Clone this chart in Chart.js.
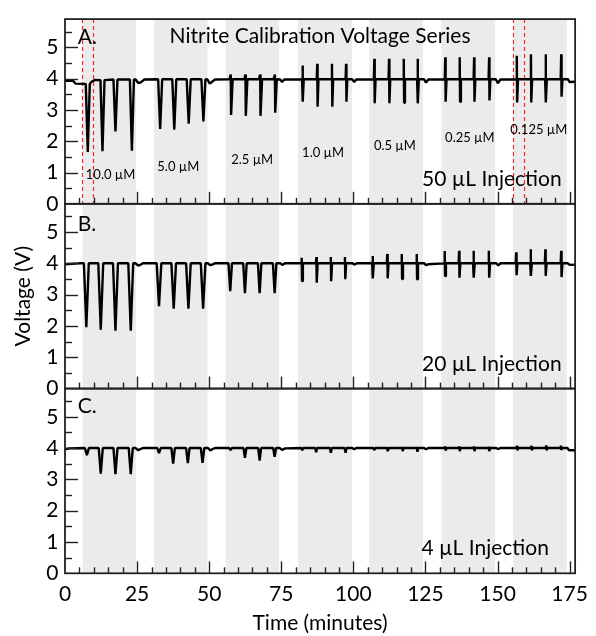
<!DOCTYPE html>
<html>
<head>
<meta charset="utf-8">
<script src="https://cdn.jsdelivr.net/npm/chart.js@4.4.1/dist/chart.umd.min.js"></script>
<style>
  html, body { margin: 0; padding: 0; background: #fff; }
</style>
</head>
<body>
<canvas id="chart" width="596" height="636"></canvas>
<script>
// ---- data ----
const timeMax = 176.9;
const voltMax = 5.9;

// injection windows (grey bands), minutes
const bandStart = [6.1, 30.9, 55.7, 80.8, 105.5, 130.5, 155.4];
const bandEnd   = [24.6, 49.4, 74.3, 99.5, 124.1, 149.2, 174.0];
const concLabels = ["10.0 \u00b5M", "5.0 \u00b5M", "2.5 \u00b5M", "1.0 \u00b5M", "0.5 \u00b5M", "0.25 \u00b5M", "0.125 \u00b5M"];

// red dashed markers in panel A
const markerTimes = [6.0, 9.8, 155.4, 159.2];

// Panel A, 50 uL
const peakTimeA = [7.9, 13.0, 17.5, 23.2, 33.0, 37.9, 42.9, 48.0, 57.6, 62.7, 67.8, 72.9, 82.5, 87.6, 92.7, 97.6,
                   107.4, 112.5, 117.6, 122.4, 132.0, 137.0, 142.0, 147.2, 156.8, 161.7, 166.8, 172.2];
const peakLowA  = [1.66, 1.68, 2.31, 1.70, 2.39, 2.37, 2.56, 2.63, 2.84, 2.81, 2.81, 2.91, 3.26, 3.10, 3.10, 3.26,
                   3.21, 3.21, 3.23, 3.21, 3.26, 3.26, 3.26, 3.30, 3.24, 3.24, 3.24, 3.42];
const peakHighA = [3.83, 3.95, 3.97, 3.97, 3.98, 3.98, 3.98, 3.98, 4.13, 4.13, 4.13, 4.13, 4.42, 4.47, 4.47, 4.47,
                   4.63, 4.63, 4.63, 4.63, 4.68, 4.68, 4.68, 4.68, 4.73, 4.78, 4.78, 4.78];
const peakBaseA = [3.83, 3.95, 3.97, 3.97, 3.98, 3.98, 3.98, 3.98, 3.98, 3.98, 3.98, 3.98, 3.98, 3.98, 3.98, 3.98,
                   3.98, 3.98, 3.98, 3.98, 3.98, 3.98, 3.98, 3.98, 3.98, 3.98, 3.98, 3.98];
const baseTimeA = [0, 2.8, 3.6, 6.9, 9.2, 10.5, 24.5, 25.4, 26.3, 27.5, 49.4, 50.2, 51, 52, 74.6, 75.3, 76,
                   99.6, 100.3, 101, 124.5, 125.2, 126, 149.4, 150.1, 151, 174.4, 175, 176.9];
const baseVoltA = [3.93, 3.93, 3.84, 3.83, 3.9, 3.96, 3.97, 3.86, 3.88, 3.97, 3.97, 3.84, 3.9, 3.97, 3.97, 3.89, 3.97,
                   3.98, 3.89, 3.97, 3.98, 3.87, 3.97, 3.98, 3.85, 3.97, 3.98, 3.89, 3.9];
const halfWidthA = [0.7, 0.7, 0.55, 0.3, 0.3, 0.3, 0.3];

// Panel B, 20 uL
const peakTimeB = [7.4, 12.4, 17.5, 22.8, 32.6, 37.7, 42.8, 47.9, 57.3, 62.4, 67.5, 72.7, 82.2, 87.3, 92.3, 97.2,
                   106.8, 111.9, 116.9, 122.1, 131.8, 136.8, 141.8, 147.1, 156.6, 161.6, 166.7, 172.2];
const peakLowB  = [1.96, 1.88, 1.85, 1.85, 2.63, 2.55, 2.55, 2.55, 3.11, 3.05, 3.05, 3.05, 3.43, 3.38, 3.43, 3.49,
                   3.52, 3.52, 3.50, 3.49, 3.59, 3.54, 3.54, 3.54, 3.62, 3.60, 3.60, 3.56];
const peakHighB = [4.0, 4.0, 4.0, 4.0, 4.0, 4.0, 4.0, 4.0, 4.0, 4.0, 4.0, 4.0, 4.18, 4.2, 4.2, 4.2,
                   4.23, 4.3, 4.3, 4.3, 4.39, 4.4, 4.4, 4.4, 4.35, 4.45, 4.45, 4.4];
const baseTimeB = [0, 5, 24.4, 25.4, 26.3, 27, 49.6, 50.3, 51, 52, 74.7, 75.4, 76.2, 99.7, 100.5, 101.2,
                   124.6, 125.2, 126, 149.6, 150.3, 151, 174.4, 175, 176.9];
const baseVoltB = [3.97, 4.0, 4.0, 3.93, 3.96, 4.0, 4.0, 3.94, 3.96, 4.0, 4.0, 3.95, 4.0, 4.0, 3.96, 4.0,
                   4.0, 3.94, 3.97, 4.0, 3.93, 4.0, 4.0, 3.95, 3.96];
const halfWidthB = [0.85, 0.8, 0.6, 0.3, 0.3, 0.3, 0.3];

// Panel C, 4 uL
const peakTimeC = [7.6, 12.4, 17.5, 22.8, 32.6, 37.5, 42.6, 47.7, 57.4, 62.4, 67.5, 72.7, 82.3, 87.1, 92.2, 97.3,
                   107.2, 112.0, 117.1, 122.2, 132.0, 136.9, 142.0, 147.1, 156.9, 161.9, 167.0, 172.1];
const peakLowC  = [3.77, 3.18, 3.17, 3.17, 3.84, 3.50, 3.52, 3.53, 3.94, 3.69, 3.60, 3.72, 3.93, 3.87, 3.85, 3.85,
                   3.95, 3.90, 3.90, 3.88, 3.92, 3.90, 3.90, 3.90, 3.93, 3.93, 3.93, 3.94];
const peakHighC = [4.0, 4.0, 4.0, 4.0, 4.0, 4.0, 4.0, 4.0, 4.0, 4.0, 4.0, 4.0, 4.0, 4.0, 4.0, 4.0,
                   4.0, 4.03, 4.03, 4.03, 4.05, 4.05, 4.05, 4.05, 4.07, 4.07, 4.08, 4.08];
const baseTimeC = [0, 1.5, 24.5, 25.4, 26.2, 27, 49.6, 50.4, 51.2, 52, 74.5, 75.3, 76.3, 99.6, 100.3, 101,
                   124.5, 125.2, 126, 149.5, 150.2, 151, 174.3, 174.8, 176.9];
const baseVoltC = [3.96, 3.99, 4.0, 3.93, 3.97, 4.0, 4.0, 3.92, 3.97, 4.0, 4.0, 3.94, 3.99, 4.0, 3.96, 4.0,
                   4.0, 3.96, 4.0, 4.0, 3.97, 4.0, 4.0, 3.93, 3.93];
const halfWidthC = [0.7, 0.6, 0.5, 0.35, 0.3, 0.3, 0.3];

// builds a polyline: baseline readings plus one down (and optional up) spike per injection
function buildTrace(baseT, baseV, peakT, peakLo, peakHi, base, halfW) {
  const pts = baseT.map((t, i) => ({ x: t, y: baseV[i] }));
  peakT.forEach((t, i) => {
    const b = Array.isArray(base) ? base[i] : base;
    const w = halfW[Math.floor(i / 4)];
    pts.push({ x: t - w, y: b });
    if (peakHi[i] > b + 0.02) pts.push({ x: t - 0.12, y: peakHi[i] });
    pts.push({ x: t, y: peakLo[i] });
    pts.push({ x: t + w, y: b });
  });
  return pts.sort((a, b) => a.x - b.x);
}

const traceA = buildTrace(baseTimeA, baseVoltA, peakTimeA, peakLowA, peakHighA, peakBaseA, halfWidthA);
const traceB = buildTrace(baseTimeB, baseVoltB, peakTimeB, peakLowB, peakHighB, 4.0, halfWidthB);
const traceC = buildTrace(baseTimeC, baseVoltC, peakTimeC, peakLowC, peakHighC, 4.0, halfWidthC);

// ---- text placed in data coordinates ----
const panelNotes = [
  { axis: "yA", text: "A.", x: 4.4, y: 5.33, size: 21, align: "left" },
  { axis: "yB", text: "B.", x: 4.4, y: 5.25, size: 21, align: "left" },
  { axis: "yC", text: "C.", x: 4.4, y: 5.33, size: 21, align: "left" },
  { axis: "yA", text: "50 \u00b5L Injection", x: 123.8, y: 0.77, size: 21, align: "left" },
  { axis: "yB", text: "20 \u00b5L Injection", x: 123.8, y: 0.78, size: 21, align: "left" },
  { axis: "yC", text: "4 \u00b5L Injection", x: 123.6, y: 0.79, size: 21, align: "left" }
];
const concX = [15.8, 39.3, 64.9, 89.5, 114.4, 140.4, 164.3];
const concY = [0.93, 1.18, 1.41, 1.64, 1.86, 2.12, 2.36];

Chart.defaults.font.family = "Lato, 'Open Sans', sans-serif";
Chart.defaults.color = "#000";

const panelIds = ["yA", "yB", "yC"];

const decor = {
  id: "decor",
  beforeDatasetsDraw(chart) {
    const { ctx, scales } = chart;
    const x = scales.x;
    ctx.save();
    ctx.fillStyle = "#ebebeb";
    panelIds.forEach(id => {
      const y = scales[id];
      bandStart.forEach((s, i) => {
        const x0 = x.getPixelForValue(s);
        const x1 = x.getPixelForValue(bandEnd[i]);
        ctx.fillRect(x0, y.top, x1 - x0, y.bottom - y.top);
      });
    });
    // red dashed lines, panel A only
    const yA = scales.yA;
    ctx.strokeStyle = "#ee2b2b";
    ctx.lineWidth = 1.2;
    ctx.setLineDash([4, 3]);
    markerTimes.forEach(t => {
      const px = Math.round(x.getPixelForValue(t)) + 0.5;
      ctx.beginPath();
      ctx.moveTo(px, yA.top);
      ctx.lineTo(px, yA.bottom);
      ctx.stroke();
    });
    ctx.restore();
  },
  afterDatasetsDraw(chart) {
    const { ctx, scales, chartArea } = chart;
    const x = scales.x;
    ctx.save();
    ctx.strokeStyle = "#222";
    panelIds.forEach(id => {
      const y = scales[id];
      ctx.lineWidth = 1.4;
      // inward ticks on the bottom edge
      for (let t = 5; t < timeMax; t += 5) {
        const px = Math.round(x.getPixelForValue(t)) + 0.5;
        const len = t % 25 === 0 ? 12 : 6;
        ctx.beginPath();
        ctx.moveTo(px, y.bottom);
        ctx.lineTo(px, y.bottom - len);
        ctx.stroke();
      }
      // inward ticks on the left edge
      for (let v = 0.5; v < voltMax; v += 0.5) {
        const py = Math.round(y.getPixelForValue(v)) + 0.5;
        const len = Math.abs(v - Math.round(v)) < 0.01 ? 13 : 7;
        ctx.beginPath();
        ctx.moveTo(chartArea.left, py);
        ctx.lineTo(chartArea.left + len, py);
        ctx.stroke();
      }
      ctx.lineWidth = 1.8;
      ctx.strokeRect(chartArea.left, y.top, chartArea.right - chartArea.left, y.bottom - y.top);
    });

    ctx.fillStyle = "#000";
    ctx.textBaseline = "middle";
    ctx.textAlign = "center";
    ctx.font = "21px Lato";
    ctx.fillText("Nitrite Calibration Voltage Series", (chartArea.left + chartArea.right) / 2, scales.yA.getPixelForValue(5.36));

    panelNotes.forEach(n => {
      ctx.font = n.size + "px Lato";
      ctx.textAlign = n.align;
      ctx.fillText(n.text, x.getPixelForValue(n.x), scales[n.axis].getPixelForValue(n.y));
    });

    ctx.font = "13px Lato";
    ctx.textAlign = "center";
    concLabels.forEach((c, i) => {
      ctx.fillText(c, x.getPixelForValue(concX[i]), scales.yA.getPixelForValue(concY[i]));
    });
    ctx.restore();
  }
};

function voltAxis(showTitle) {
  return {
    type: "linear",
    position: "left",
    stack: "panels",
    stackWeight: 1,
    min: 0,
    max: voltMax,
    grid: { display: false, drawTicks: false },
    border: { display: false },
    ticks: { stepSize: 1, includeBounds: false, autoSkip: false, padding: 6.5, font: { size: 21 } },
    title: { display: showTitle, text: "Voltage (V)", font: { size: 21 }, padding: { top: 11, bottom: 0 } },
    afterFit(scale) { scale.width = 65; }
  };
}

function lineSet(data, axis) {
  return {
    data: data,
    yAxisID: axis,
    borderColor: "#000",
    borderWidth: 2.4,
    borderJoinStyle: "bevel",
    pointRadius: 0,
    tension: 0,
    fill: false
  };
}

new Chart(document.getElementById("chart"), {
  type: "line",
  data: {
    datasets: [lineSet(traceA, "yA"), lineSet(traceB, "yB"), lineSet(traceC, "yC")]
  },
  options: {
    responsive: false,
    animation: false,
    layout: { padding: { top: 15, right: 9.3, left: 0, bottom: 0 } },
    plugins: { legend: { display: false }, tooltip: { enabled: false } },
    scales: {
      x: {
        type: "linear",
        min: 0,
        max: timeMax,
        grid: { display: false, drawTicks: false },
        border: { display: false },
        ticks: { stepSize: 25, includeBounds: false, autoSkip: false, padding: 8, font: { size: 21 }, maxRotation: 0 },
        title: { display: true, text: "Time (minutes)", font: { size: 21 }, padding: { top: 0, bottom: 0 } },
        afterFit(scale) { scale.height = 62.7; }
      },
      yC: voltAxis(false),
      yB: voltAxis(true),
      yA: voltAxis(false)
    }
  },
  plugins: [decor]
});
</script>
</body>
</html>
